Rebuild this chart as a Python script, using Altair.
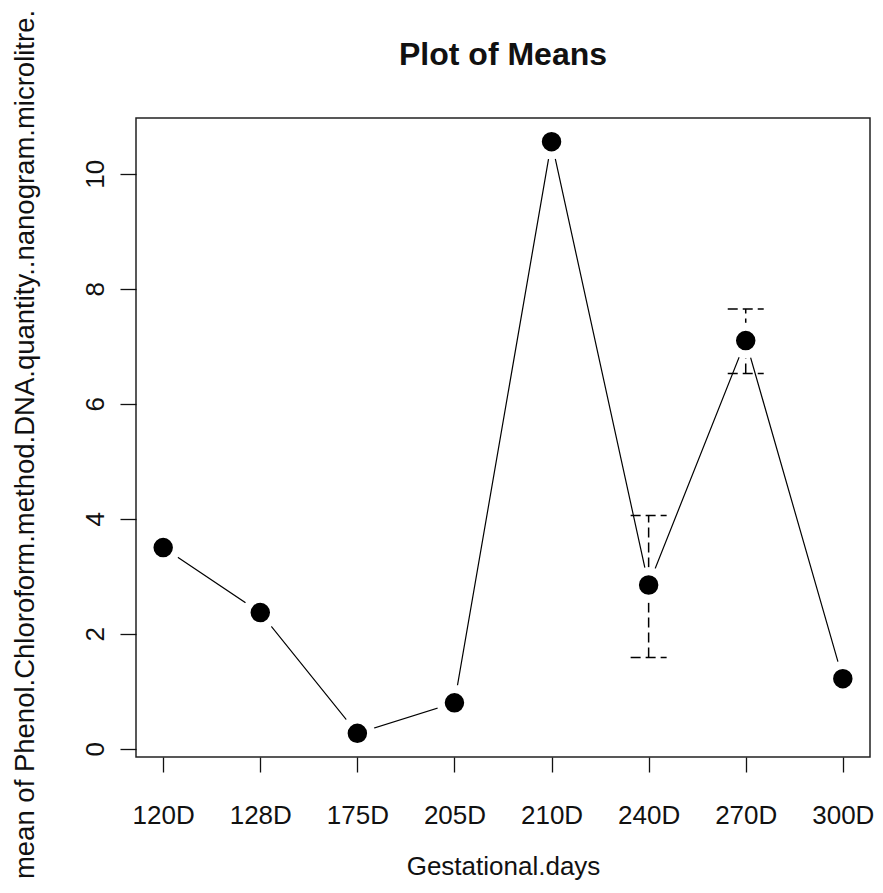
import json
import altair as alt
import pandas as pd

# ---- data ----
DAYS = ["120D", "128D", "175D", "205D", "210D", "240D", "270D", "300D"]
MEANS = [3.50, 2.37, 0.27, 0.80, 10.56, 2.85, 7.10, 1.22]
ERR_DAYS = ["240D", "270D"]
ERR_LOW = [1.59, 6.53]
ERR_HIGH = [4.06, 7.65]
Y_TICKS = [0, 2, 4, 6, 8, 10]

TITLE = "Plot of Means"
X_TITLE = "Gestational.days"
Y_TITLE = "mean of Phenol.Chloroform.method.DNA.quantity..nanogram.microlitre."

# ---- styling ----
FONT = "Liberation Sans, Arial"
FS = 26
INK = "#111111"
W, H = 734, 639

means_df = pd.DataFrame({"day": DAYS, "idx": list(range(1, len(DAYS) + 1)), "mean": MEANS})
err_df = pd.DataFrame({
    "day": ERR_DAYS,
    "idx": [DAYS.index(d) + 1 for d in ERR_DAYS],
    "low": ERR_LOW,
    "high": ERR_HIGH,
})

# R-style 4% axis expansion
lo = min(MEANS + ERR_LOW)
hi = max(MEANS + ERR_HIGH)
ypad = 0.04 * (hi - lo)
n = len(DAYS)
xpad = 0.04 * (n - 1)

x_scale = alt.Scale(domain=[1 - xpad, n + xpad], nice=False, zero=False)
y_scale = alt.Scale(domain=[lo - ypad, hi + ypad], nice=False, zero=False)

label_expr = json.dumps(DAYS) + "[datum.value - 1]"

x_axis = alt.Axis(
    values=list(range(1, n + 1)), labelExpr=label_expr, title=X_TITLE,
    domain=False, grid=False, ticks=True, tickSize=15, tickColor=INK, tickWidth=1.3,
    labelFont=FONT, labelFontSize=FS, labelColor=INK, labelPadding=51,
    labelBaseline="alphabetic", labelAngle=0, labelOverlap=False, labelFlush=False,
    titleFont=FONT, titleFontSize=FS, titleFontWeight="normal", titleColor=INK,
    titleBaseline="alphabetic", titleY=117,
)
y_axis = alt.Axis(
    values=Y_TICKS, format="d", title=Y_TITLE,
    domain=False, grid=False, ticks=True, tickSize=16, tickColor=INK, tickWidth=1.3,
    labelFont=FONT, labelFontSize=FS, labelColor=INK, labelPadding=16.5,
    labelAngle=270, labelAlign="center", labelBaseline="alphabetic", labelOverlap=False,
    titleFont=FONT, titleFontSize=27.5, titleFontWeight="normal", titleColor=INK,
    titleAngle=270, titleAlign="center", titleBaseline="alphabetic",
    titleX=-102.5, titleY=326,
)

base = alt.Chart(means_df)

line = base.mark_line(color="black", strokeWidth=1.2).encode(
    x=alt.X("idx:Q", scale=x_scale, axis=x_axis),
    y=alt.Y("mean:Q", scale=y_scale, axis=y_axis),
    order="idx:Q",
)

err = alt.Chart(err_df)
bars = err.mark_rule(color="black", strokeWidth=1.5, strokeDash=[10, 5]).encode(
    x=alt.X("idx:Q", scale=x_scale),
    y=alt.Y("low:Q", scale=y_scale),
    y2="high:Q",
)
cap_hi = err.mark_rule(color="black", strokeWidth=1.5, strokeDash=[10, 5],
                       xOffset=-18, x2Offset=18).encode(
    x=alt.X("idx:Q", scale=x_scale),
    x2="idx:Q",
    y=alt.Y("high:Q", scale=y_scale),
)
cap_lo = err.mark_rule(color="black", strokeWidth=1.5, strokeDash=[10, 5],
                       xOffset=-18, x2Offset=18).encode(
    x=alt.X("idx:Q", scale=x_scale),
    x2="idx:Q",
    y=alt.Y("low:Q", scale=y_scale),
)

points = base.mark_circle(fill="black", stroke="white", strokeWidth=8,
                          opacity=1, fillOpacity=1, strokeOpacity=1, size=755).encode(
    x=alt.X("idx:Q", scale=x_scale),
    y=alt.Y("mean:Q", scale=y_scale),
)

title = alt.Chart(pd.DataFrame({"t": [TITLE]})).mark_text(
    font=FONT, fontSize=32, fontWeight="bold", align="center",
    baseline="alphabetic", color=INK,
).encode(text="t:N", x=alt.value(W / 2), y=alt.value(-53))

chart = alt.layer(line, bars, cap_hi, cap_lo, points, title).properties(
    width=W, height=H,
    autosize=alt.AutoSizeParams(type="none"),
    padding={"left": 128, "top": 110, "right": 5, "bottom": 123},
).configure_view(stroke="#222222", strokeWidth=1.5)

chart.save("out.html", embed_options={"renderer": "svg", "actions": False})
